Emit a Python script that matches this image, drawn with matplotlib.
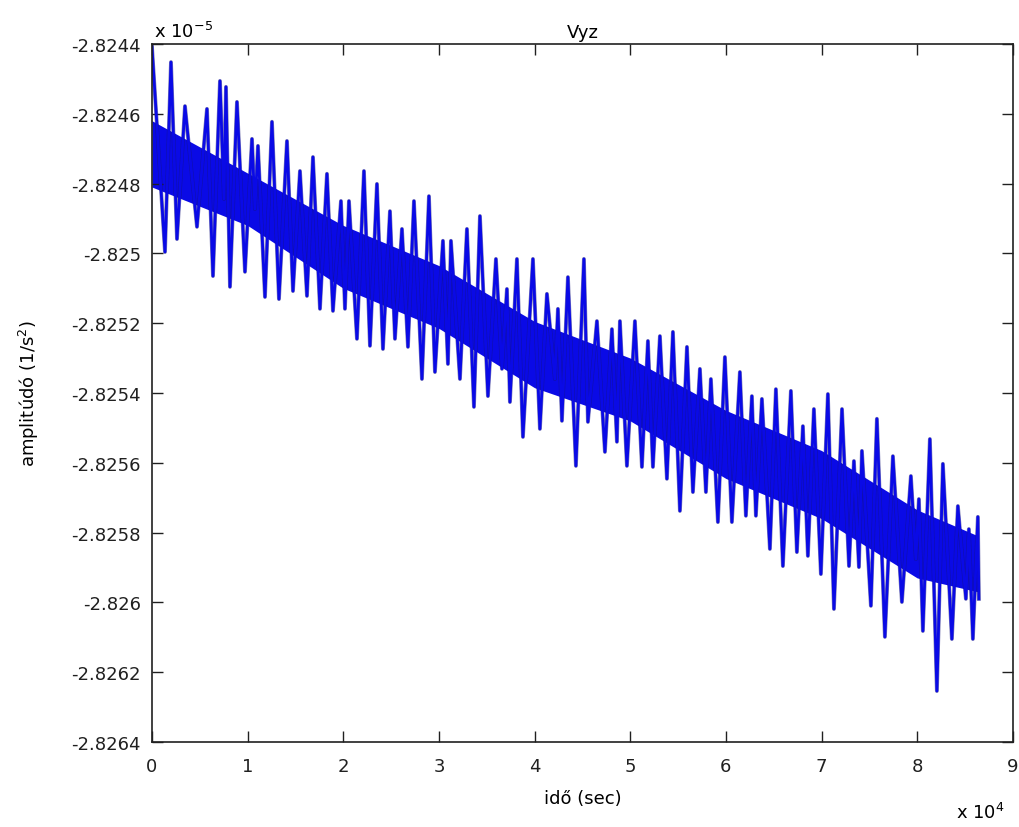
import matplotlib
matplotlib.use('Agg')
import matplotlib.pyplot as plt
import numpy as np

# spike peaks / troughs, in order (time in s, value in 1e-5 1/s^2)
t_sec = [0, 1359, 1986, 2613, 3449, 4704, 5749, 6376, 7108, 7526, 7735, 8153,
         8885, 9721, 10453, 10767, 11080, 11812, 12544, 13275, 14112, 14739,
         15470, 16202, 16829, 17561, 18293, 18920, 19756, 20174, 20592, 21428,
         22160, 22788, 23519, 24146, 24878, 25401, 26133, 26760, 27387, 28223,
         28955, 29582, 30418, 30940, 31254, 32195, 32927, 33659, 34286, 35122,
         35958, 36586, 37108, 37422, 38153, 38781, 39826, 40556, 41289, 42125,
         42439, 42857, 43484, 44320, 45157, 45575, 46516, 47352, 48084, 48606,
         48920, 49652, 50488, 51220, 51847, 52370, 53101, 53833, 54460, 55192,
         55928, 56551, 57283, 57910, 58431, 59163, 59895, 60626, 61462, 62089,
         62717, 63135, 63763, 64599, 65226, 65958, 66794, 67421, 68049, 68571,
         69199, 69930, 70662, 71294, 72136, 72868, 73384, 73906, 74219, 75159,
         75786, 76622, 77458, 78398, 79339, 79862, 80175, 80593, 81325, 82057,
         82684, 83625, 84252, 85088, 85401, 85819, 86342, 86447]
vyz = [-2.824409, -2.824996, -2.824452, -2.824959, -2.824578, -2.824924,
       -2.824586, -2.825065, -2.824506, -2.824844, -2.824523, -2.825096,
       -2.824566, -2.825053, -2.824672, -2.824873, -2.824692, -2.825125,
       -2.824623, -2.825131, -2.824678, -2.825108, -2.824764, -2.825122,
       -2.824724, -2.825159, -2.824772, -2.825165, -2.824850, -2.825159,
       -2.824850, -2.825245, -2.824764, -2.825265, -2.824801, -2.825274,
       -2.824879, -2.825245, -2.824930, -2.825268, -2.824850, -2.825360,
       -2.824836, -2.825340, -2.824964, -2.825317, -2.824964, -2.825360,
       -2.824930, -2.825440, -2.824893, -2.825409, -2.825016, -2.825331,
       -2.825102, -2.825426, -2.825016, -2.825526, -2.825016, -2.825503,
       -2.825116, -2.825360, -2.825159, -2.825480, -2.825068, -2.825609,
       -2.825016, -2.825483, -2.825194, -2.825569, -2.825217, -2.825540,
       -2.825194, -2.825609, -2.825194, -2.825612, -2.825251, -2.825612,
       -2.825237, -2.825646, -2.825225, -2.825738, -2.825268, -2.825684,
       -2.825331, -2.825684, -2.825360, -2.825770, -2.825297, -2.825770,
       -2.825340, -2.825752, -2.825409, -2.825752, -2.825417, -2.825847,
       -2.825389, -2.825896, -2.825394, -2.825856, -2.825495, -2.825867,
       -2.825446, -2.825919, -2.825403, -2.826019, -2.825446, -2.825896,
       -2.825595, -2.825899, -2.825566, -2.826010, -2.825474, -2.826099,
       -2.825581, -2.825999, -2.825638, -2.825876, -2.825704, -2.826082,
       -2.825532, -2.826254, -2.825603, -2.826105, -2.825724, -2.825990,
       -2.825790, -2.826105, -2.825755, -2.825990]

# dense core of the band (solid blue region between the spikes)
core_t = [0, 10000, 20000, 30000, 40000, 50000, 60000, 70000, 80000, 86400]
core_hi = [-2.824620, -2.824770, -2.824920, -2.825035, -2.825195,
           -2.825300, -2.825450, -2.825565, -2.825735, -2.825810]
core_lo = [-2.824810, -2.824920, -2.825100, -2.825215, -2.825385,
           -2.825480, -2.825645, -2.825760, -2.825930, -2.825970]

xticks = np.arange(0, 10)
yticks = [-2.8264, -2.8262, -2.826, -2.8258, -2.8256, -2.8254,
          -2.8252, -2.825, -2.8248, -2.8246, -2.8244]

fs = 13
blue = '#0a0ae6'
fig = plt.figure(figsize=(10.2, 8.28), dpi=100)
ax = fig.add_axes([0.149, 0.1027, 0.844, 0.843])

t = np.array(t_sec) / 1e4
ct = np.array(core_t) / 1e4
ax.fill_between(ct, core_lo, core_hi, color=blue, lw=0)
ax.plot(t, vyz, color='#16167a', lw=2.8, alpha=0.55)
ax.plot(t, vyz, color=blue, lw=2.0)

ax.set_xlim(0, 9)
ax.set_ylim(-2.8264, -2.8244)
ax.set_xticks(xticks)
ax.set_xticklabels([str(x) for x in xticks])
ax.set_yticks(yticks)
ax.set_yticklabels([('%g' % y) for y in yticks])
ax.tick_params(direction='in', length=8, width=1, top=True, right=True,
               labelsize=fs, colors='#202020')
ax.tick_params(axis='x', pad=11)
ax.tick_params(axis='y', pad=8)
for s in ax.spines.values():
    s.set_linewidth(1.2)
    s.set_color('#202020')

ax.set_title('Vyz', fontsize=fs, pad=5)
ax.set_xlabel('idő (sec)', fontsize=fs, labelpad=10)
ax.set_ylabel('amplitúdó (1/s$^2$)', fontsize=fs, labelpad=22)

fig.text(0.151, 0.949, r'x 10$^{-5}$', fontsize=fs, ha='left', va='bottom')
fig.text(0.937, 0.006, r'x 10$^{4}$', fontsize=fs, ha='left', va='bottom')

fig.savefig('out.png', dpi=100, facecolor='white')
